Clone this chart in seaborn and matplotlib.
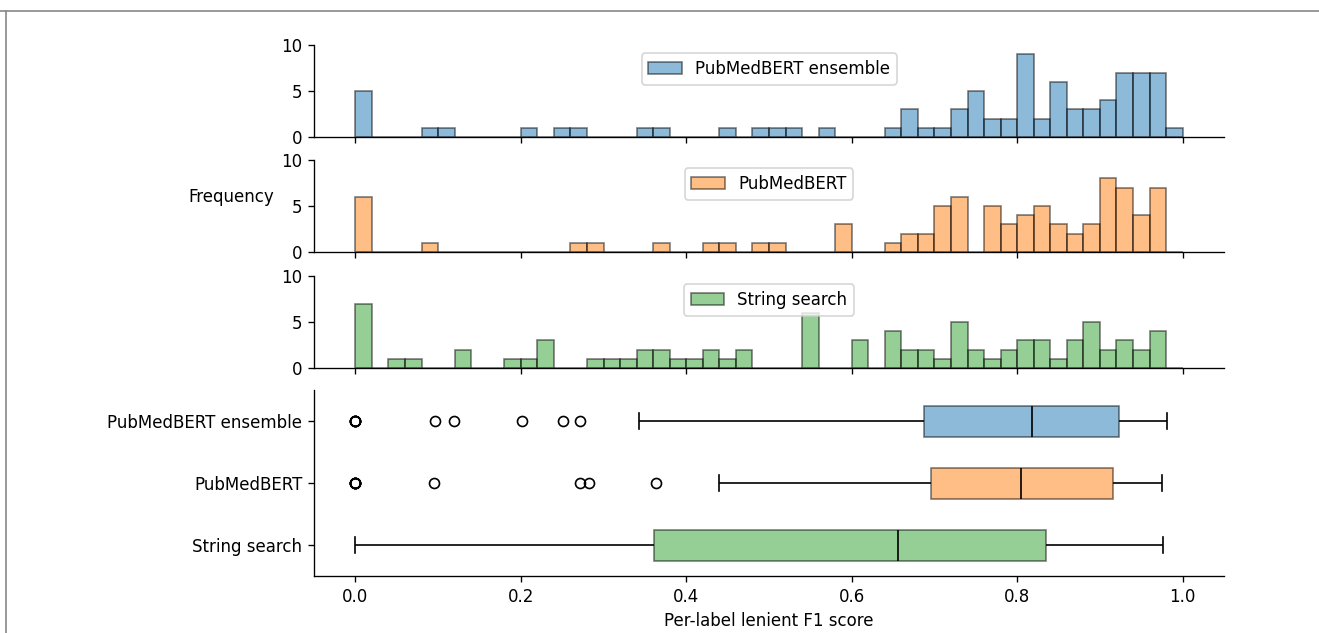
import numpy as np
import pandas as pd
import matplotlib
matplotlib.use("Agg")
import matplotlib.pyplot as plt
from matplotlib.patches import Patch
from matplotlib.lines import Line2D
import seaborn as sns

models = ["PubMedBERT ensemble", "PubMedBERT", "String search"]
colors = ["#1f77b4", "#ff7f0e", "#2ca02c"]

ensemble_scores = [
    0.0, 0.0, 0.0, 0.0, 0.0, 0.096, 0.119, 0.201, 0.251, 0.271, 0.343, 0.365,
    0.45, 0.49, 0.51, 0.53, 0.57,
    0.65, 0.665, 0.672, 0.678, 0.69, 0.71, 0.725, 0.73, 0.735,
    0.742, 0.746, 0.75, 0.754, 0.758, 0.765, 0.775, 0.785, 0.795,
    0.802, 0.805, 0.808, 0.81, 0.812, 0.815, 0.818, 0.819, 0.8195,
    0.825, 0.835, 0.842, 0.845, 0.848, 0.851, 0.854, 0.857,
    0.865, 0.87, 0.875, 0.885, 0.89, 0.895, 0.903, 0.907, 0.911, 0.915,
    0.922, 0.926, 0.929, 0.932, 0.934, 0.936, 0.938,
    0.942, 0.945, 0.948, 0.95, 0.952, 0.955, 0.958,
    0.962, 0.965, 0.968, 0.97, 0.972, 0.975, 0.978, 0.981,
]

pubmedbert_scores = [
    0.0, 0.0, 0.0, 0.0, 0.0, 0.0, 0.095, 0.271, 0.283, 0.364, 0.439, 0.45,
    0.49, 0.51, 0.585, 0.59, 0.595,
    0.65, 0.665, 0.675, 0.693, 0.697,
    0.703, 0.707, 0.71, 0.714, 0.718,
    0.722, 0.726, 0.73, 0.733, 0.736, 0.739,
    0.762, 0.766, 0.77, 0.774, 0.778, 0.783, 0.79, 0.797,
    0.803, 0.807, 0.812, 0.817,
    0.822, 0.826, 0.83, 0.834, 0.838, 0.845, 0.85, 0.855, 0.865, 0.875,
    0.883, 0.89, 0.897,
    0.902, 0.905, 0.908, 0.911, 0.915, 0.918, 0.919, 0.9195,
    0.922, 0.925, 0.928, 0.93, 0.932, 0.935, 0.938,
    0.943, 0.948, 0.952, 0.957,
    0.962, 0.964, 0.966, 0.968, 0.97, 0.972, 0.975,
]

string_scores = [
    0.0, 0.0, 0.0, 0.0, 0.0, 0.0, 0.0, 0.05, 0.07, 0.125, 0.135,
    0.19, 0.21, 0.225, 0.23, 0.235, 0.29, 0.31, 0.33, 0.345, 0.358,
    0.3625, 0.37, 0.39, 0.41, 0.425, 0.435, 0.45, 0.465, 0.475,
    0.542, 0.545, 0.548, 0.551, 0.554, 0.557, 0.605, 0.61, 0.615,
    0.643, 0.648, 0.654, 0.658, 0.665, 0.675, 0.685, 0.695, 0.71,
    0.722, 0.726, 0.73, 0.734, 0.738, 0.745, 0.755, 0.77, 0.785, 0.795,
    0.805, 0.81, 0.815, 0.825, 0.834, 0.8395, 0.85, 0.865, 0.87, 0.875,
    0.882, 0.886, 0.89, 0.894, 0.898, 0.905, 0.915, 0.925, 0.93, 0.935,
    0.945, 0.955, 0.963, 0.967, 0.971, 0.976,
]

xticks = [0.0, 0.2, 0.4, 0.6, 0.8, 1.0]
yticks_hist = [0, 5, 10]

score_lists = [ensemble_scores, pubmedbert_scores, string_scores]
df = pd.DataFrame({
    "score": np.concatenate(score_lists),
    "model": np.repeat(models, [len(s) for s in score_lists]),
})

plt.rcParams["font.family"] = ["DejaVu Sans"]
plt.rcParams["font.size"] = 10

W, H = 1319, 633
fig = plt.figure(figsize=(W / 120, H / 120), dpi=120)

left = 314 / W
width = (1224 - 314) / W
hist_tops = [45, 160, 276]
hist_h = 92
bins = np.linspace(0, 1, 51)

for i, (name, col, scores) in enumerate(zip(models, colors, score_lists)):
    top = hist_tops[i]
    ax = fig.add_axes([left, 1 - (top + hist_h) / H, width, hist_h / H])
    sns.histplot(x=scores, bins=bins, color=col, alpha=0.5,
                 edgecolor=(0, 0, 0, 0.5), linewidth=1.0, ax=ax)
    ax.set_xlim(-0.05, 1.05)
    ax.set_ylim(0, 10)
    ax.set_xticks(xticks)
    ax.set_yticks(yticks_hist)
    ax.tick_params(labelbottom=False, labelsize=10)
    ax.set_xlabel("")
    if i == 1:
        ax.set_ylabel("Frequency", rotation=0, ha="right", fontsize=10)
    else:
        ax.set_ylabel("")
    handle = Patch(facecolor=col, edgecolor="black", alpha=0.5, linewidth=1.0)
    ax.legend([handle], [name], loc="upper center", fontsize=10)
    sns.despine(ax=ax)

axb = fig.add_axes([left, 1 - 576 / H, width, 186 / H])
sns.boxplot(data=df, x="score", y="model", hue="model", order=models,
            hue_order=models, palette=colors, saturation=1, width=0.5,
            linecolor="black", linewidth=1.0, boxprops={"alpha": 0.5},
            flierprops=dict(marker="o", markerfacecolor="none",
                            markeredgecolor="black", markersize=6),
            legend=False, ax=axb)
axb.set_xlim(-0.05, 1.05)
axb.set_xticks(xticks)
axb.set_xlabel("Per-label lenient F1 score", fontsize=10)
axb.set_ylabel("")
axb.tick_params(labelsize=10)
sns.despine(ax=axb)

fig.add_artist(Line2D([0, 1], [1 - 10.5 / H, 1 - 10.5 / H], transform=fig.transFigure,
                      color="#888888", linewidth=1.0))
fig.add_artist(Line2D([6 / W, 6 / W], [0, 1 - 10.5 / H], transform=fig.transFigure,
                      color="#888888", linewidth=1.0))

fig.savefig("out.png", dpi=120)
